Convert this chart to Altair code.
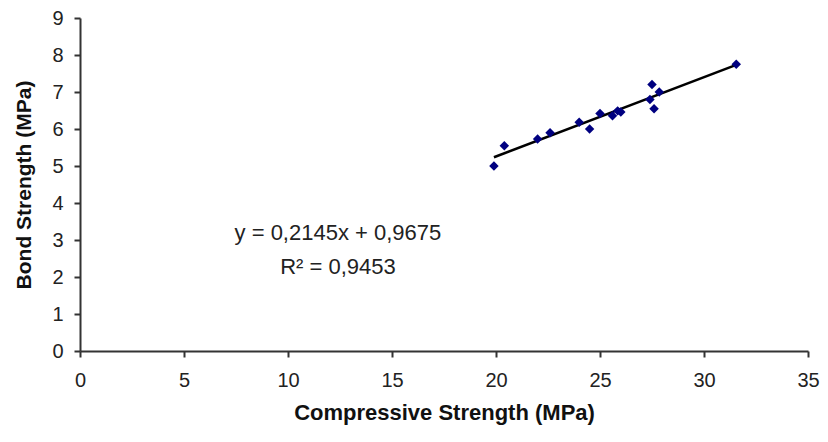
import altair as alt
import pandas as pd

comp = [19.9, 20.4, 22.0, 22.6, 24.0, 24.5, 25.0, 25.6, 25.85, 26.0, 27.4, 27.5, 27.6, 27.85, 31.55]
bond = [5.0, 5.55, 5.73, 5.9, 6.18, 6.0, 6.42, 6.36, 6.49, 6.46, 6.8, 7.2, 6.55, 7.0, 7.75]

slope = 0.2145
intercept = 0.9675
line_x = [19.9, 31.55]
eq_lines = ["y = 0,2145x + 0,9675", "R² = 0,9453"]
eq_x = [12.4, 12.4]
eq_y = [3.2, 2.28]

pts = pd.DataFrame({"x": comp, "y": bond})
ln = pd.DataFrame({"x": line_x, "y": [slope * v + intercept for v in line_x]})
txt = pd.DataFrame({"x": eq_x, "y": eq_y, "t": eq_lines})

xs = alt.Scale(domain=[0, 35], nice=False, zero=False)
ys = alt.Scale(domain=[0, 9], nice=False, zero=False)

xax = alt.Axis(values=list(range(0, 36, 5)), title="Compressive Strength (MPa)", grid=False,
               labelFontSize=20, labelPadding=13, tickSize=6, titleFontSize=22, titleFontWeight="bold",
               titlePadding=12, labelOverlap=False, labelFlush=False)
yax = alt.Axis(values=list(range(0, 10)), title="Bond Strength (MPa)", grid=False,
               labelFontSize=20, labelPadding=11, tickSize=6, titleFontSize=21, titleFontWeight="bold",
               titlePadding=17, labelOverlap=False, labelFlush=False)

enc_x = alt.X("x:Q", scale=xs, axis=xax)
enc_y = alt.Y("y:Q", scale=ys, axis=yax)

points = alt.Chart(pts).mark_point(shape="diamond", filled=True, size=90, color="#000080", opacity=1).encode(
    x=enc_x, y=enc_y,
)
trend = alt.Chart(ln).mark_line(color="black", strokeWidth=2.5).encode(
    x=enc_x, y=enc_y,
)
label = alt.Chart(txt).mark_text(fontSize=22, color="#222222", font="Liberation Sans").encode(
    x=enc_x, y=enc_y,
    text="t:N",
)

chart = alt.layer(trend, points, label).properties(
    width=728, height=333,
    autosize=alt.AutoSizeParams(type="none"),
    padding={"left": 72, "top": 10, "right": 12, "bottom": 83},
    background="white",
).configure_view(stroke=None).configure_axis(
    domainColor="#333333", tickColor="#333333", labelColor="#222222", titleColor="#111111",
    labelFont="Liberation Sans", titleFont="Liberation Sans", domainWidth=2, tickWidth=2,
)

chart.save("out.html", embed_options={"renderer": "svg", "actions": False})
